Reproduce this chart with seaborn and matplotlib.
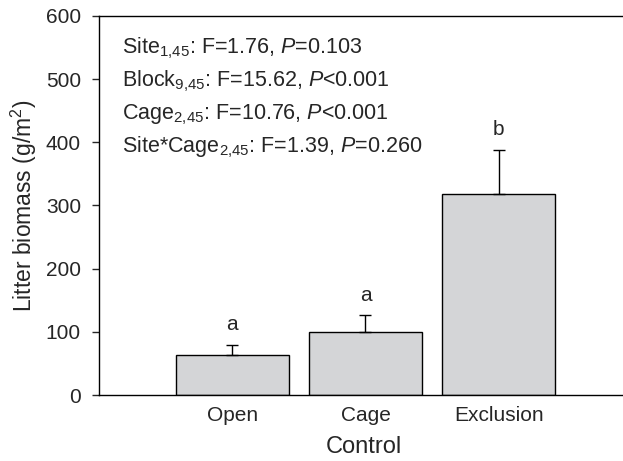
import matplotlib
matplotlib.use("Agg")
import matplotlib.pyplot as plt
import seaborn as sns
import pandas as pd
import numpy as np

categories = ["Open", "Cage", "Exclusion"]
means = [63, 99, 318]
se_upper = [16, 27, 70]
letters = ["a", "a", "b"]
stats_lines = [
    r"Site$_{1{,}45}$: F=1.76, $\it{P}$=0.103",
    r"Block$_{9{,}45}$: F=15.62, $\it{P}$<0.001",
    r"Cage$_{2{,}45}$: F=10.76, $\it{P}$<0.001",
    r"Site*Cage$_{2{,}45}$: F=1.39, $\it{P}$=0.260",
]
yticks = [0, 100, 200, 300, 400, 500, 600]

sns.set_theme(style="ticks")
plt.rcParams["font.family"] = ["Liberation Sans", "DejaVu Sans"]
plt.rcParams["mathtext.fontset"] = "custom"
plt.rcParams["mathtext.rm"] = "Liberation Sans"
plt.rcParams["mathtext.it"] = "Liberation Sans:italic"

df = pd.DataFrame({"cat": categories, "val": means})

fig = plt.figure(figsize=(6.23, 4.61), dpi=100)
ax = fig.add_axes([99 / 623, 1 - 395 / 461, 1 - 99 / 623 + 0.01, (395 - 16) / 461])

sns.barplot(data=df, x="cat", y="val", order=categories, color="#d4d5d7",
            edgecolor="black", linewidth=1.0, width=0.85, saturation=1, ax=ax)
x = np.arange(len(categories))
ax.errorbar(x, means, yerr=[np.zeros(len(means)), se_upper], fmt="none",
            ecolor="black", elinewidth=1.0, capsize=4.5, capthick=1.0)
for xi, m, e, l in zip(x, means, se_upper, letters):
    ax.text(xi, m + e + 32, l, ha="center", va="center", fontsize=15)

ax.set_xlim(-1.0, 2.98)
ax.set_ylim(0, 600)
ax.set_yticks(yticks)
ax.tick_params(axis="y", labelsize=15, length=5, width=1, direction="out", pad=8)
ax.tick_params(axis="x", labelsize=15, length=0, pad=8)
ax.set_xlabel("Control", fontsize=17, labelpad=8)
ax.set_ylabel("Litter biomass (g/m$^2$)", fontsize=16.5, labelpad=5)
for s in ["left", "bottom", "top"]:
    ax.spines[s].set_linewidth(1.0)
    ax.spines[s].set_color("black")
ax.spines["right"].set_visible(False)

for i, line in enumerate(stats_lines):
    ax.text(-0.83, 549 - i * 52.5, line, ha="left", va="center", fontsize=15.5)

fig.savefig("out.png", dpi=100)
